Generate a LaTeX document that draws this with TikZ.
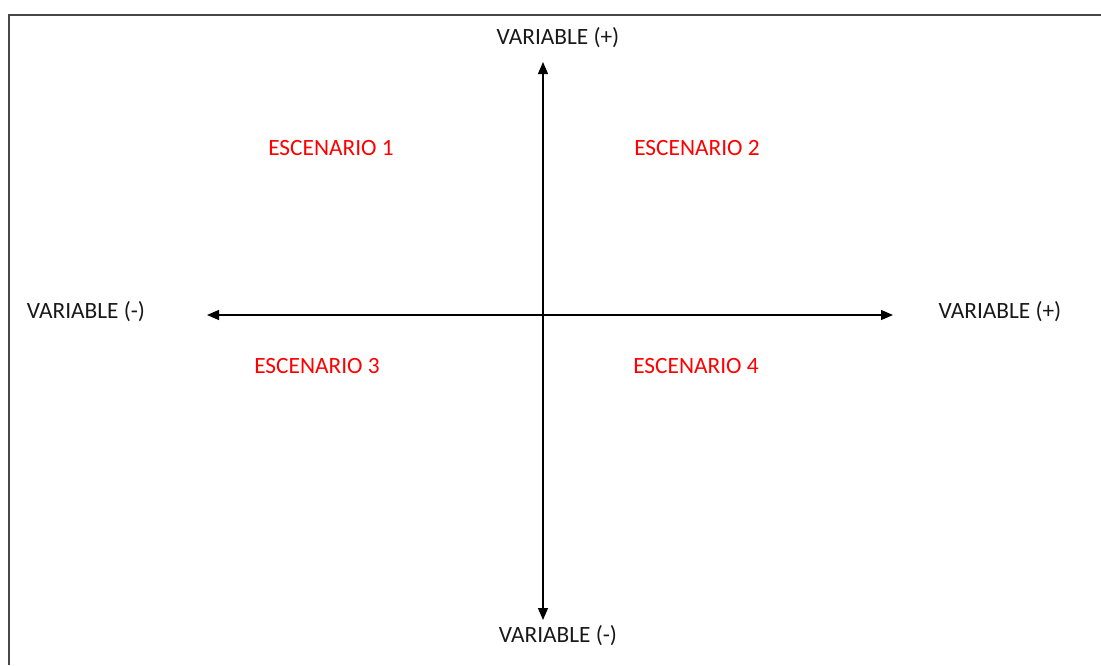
\documentclass[tikz,border=0pt]{standalone}
\usepackage{fontspec}
\setmainfont{Carlito}
\usetikzlibrary{arrows.meta}

\begin{document}
\begin{tikzpicture}[x=0.75pt, y=-0.75pt, >={Triangle[length=9pt,width=7.5pt]},
    every node/.style={font=\fontsize{17.5}{20}\selectfont, inner sep=0pt},
    axislabel/.style={text=black!90},
    scenario/.style={text=red}]
    \useasboundingbox (0,0) rectangle (1101,665);
    % frame (only the top and left sides show)
    \draw[line width=1.6pt, black!72] (9,665) |- (1101,15);

    % axis ends
    \coordinate (top)    at (543,62);
    \coordinate (bottom) at (543,620);
    \coordinate (left)   at (207,315);
    \coordinate (right)  at (893,315);

    \draw[<->, line width=0.9pt] (left) -- (right);
    \draw[<->, line width=0.9pt] (bottom) -- (top);

    % axis labels
    \node[axislabel] (ytop) at (558,38)  {VARIABLE (+)};
    \node[axislabel] (ybot) at (558,636) {VARIABLE (-)};
    \node[axislabel] (xneg) at (86,312)  {VARIABLE (-)};
    \node[axislabel] (xpos) at (1000,312) {VARIABLE (+)};

    % quadrants
    \node[scenario] (esc1) at (331,148) {ESCENARIO 1};
    \node[scenario] (esc2) at (697,148) {ESCENARIO 2};
    \node[scenario] (esc3) at (317,366) {ESCENARIO 3};
    \node[scenario] (esc4) at (696,366) {ESCENARIO 4};
\end{tikzpicture}
\end{document}
